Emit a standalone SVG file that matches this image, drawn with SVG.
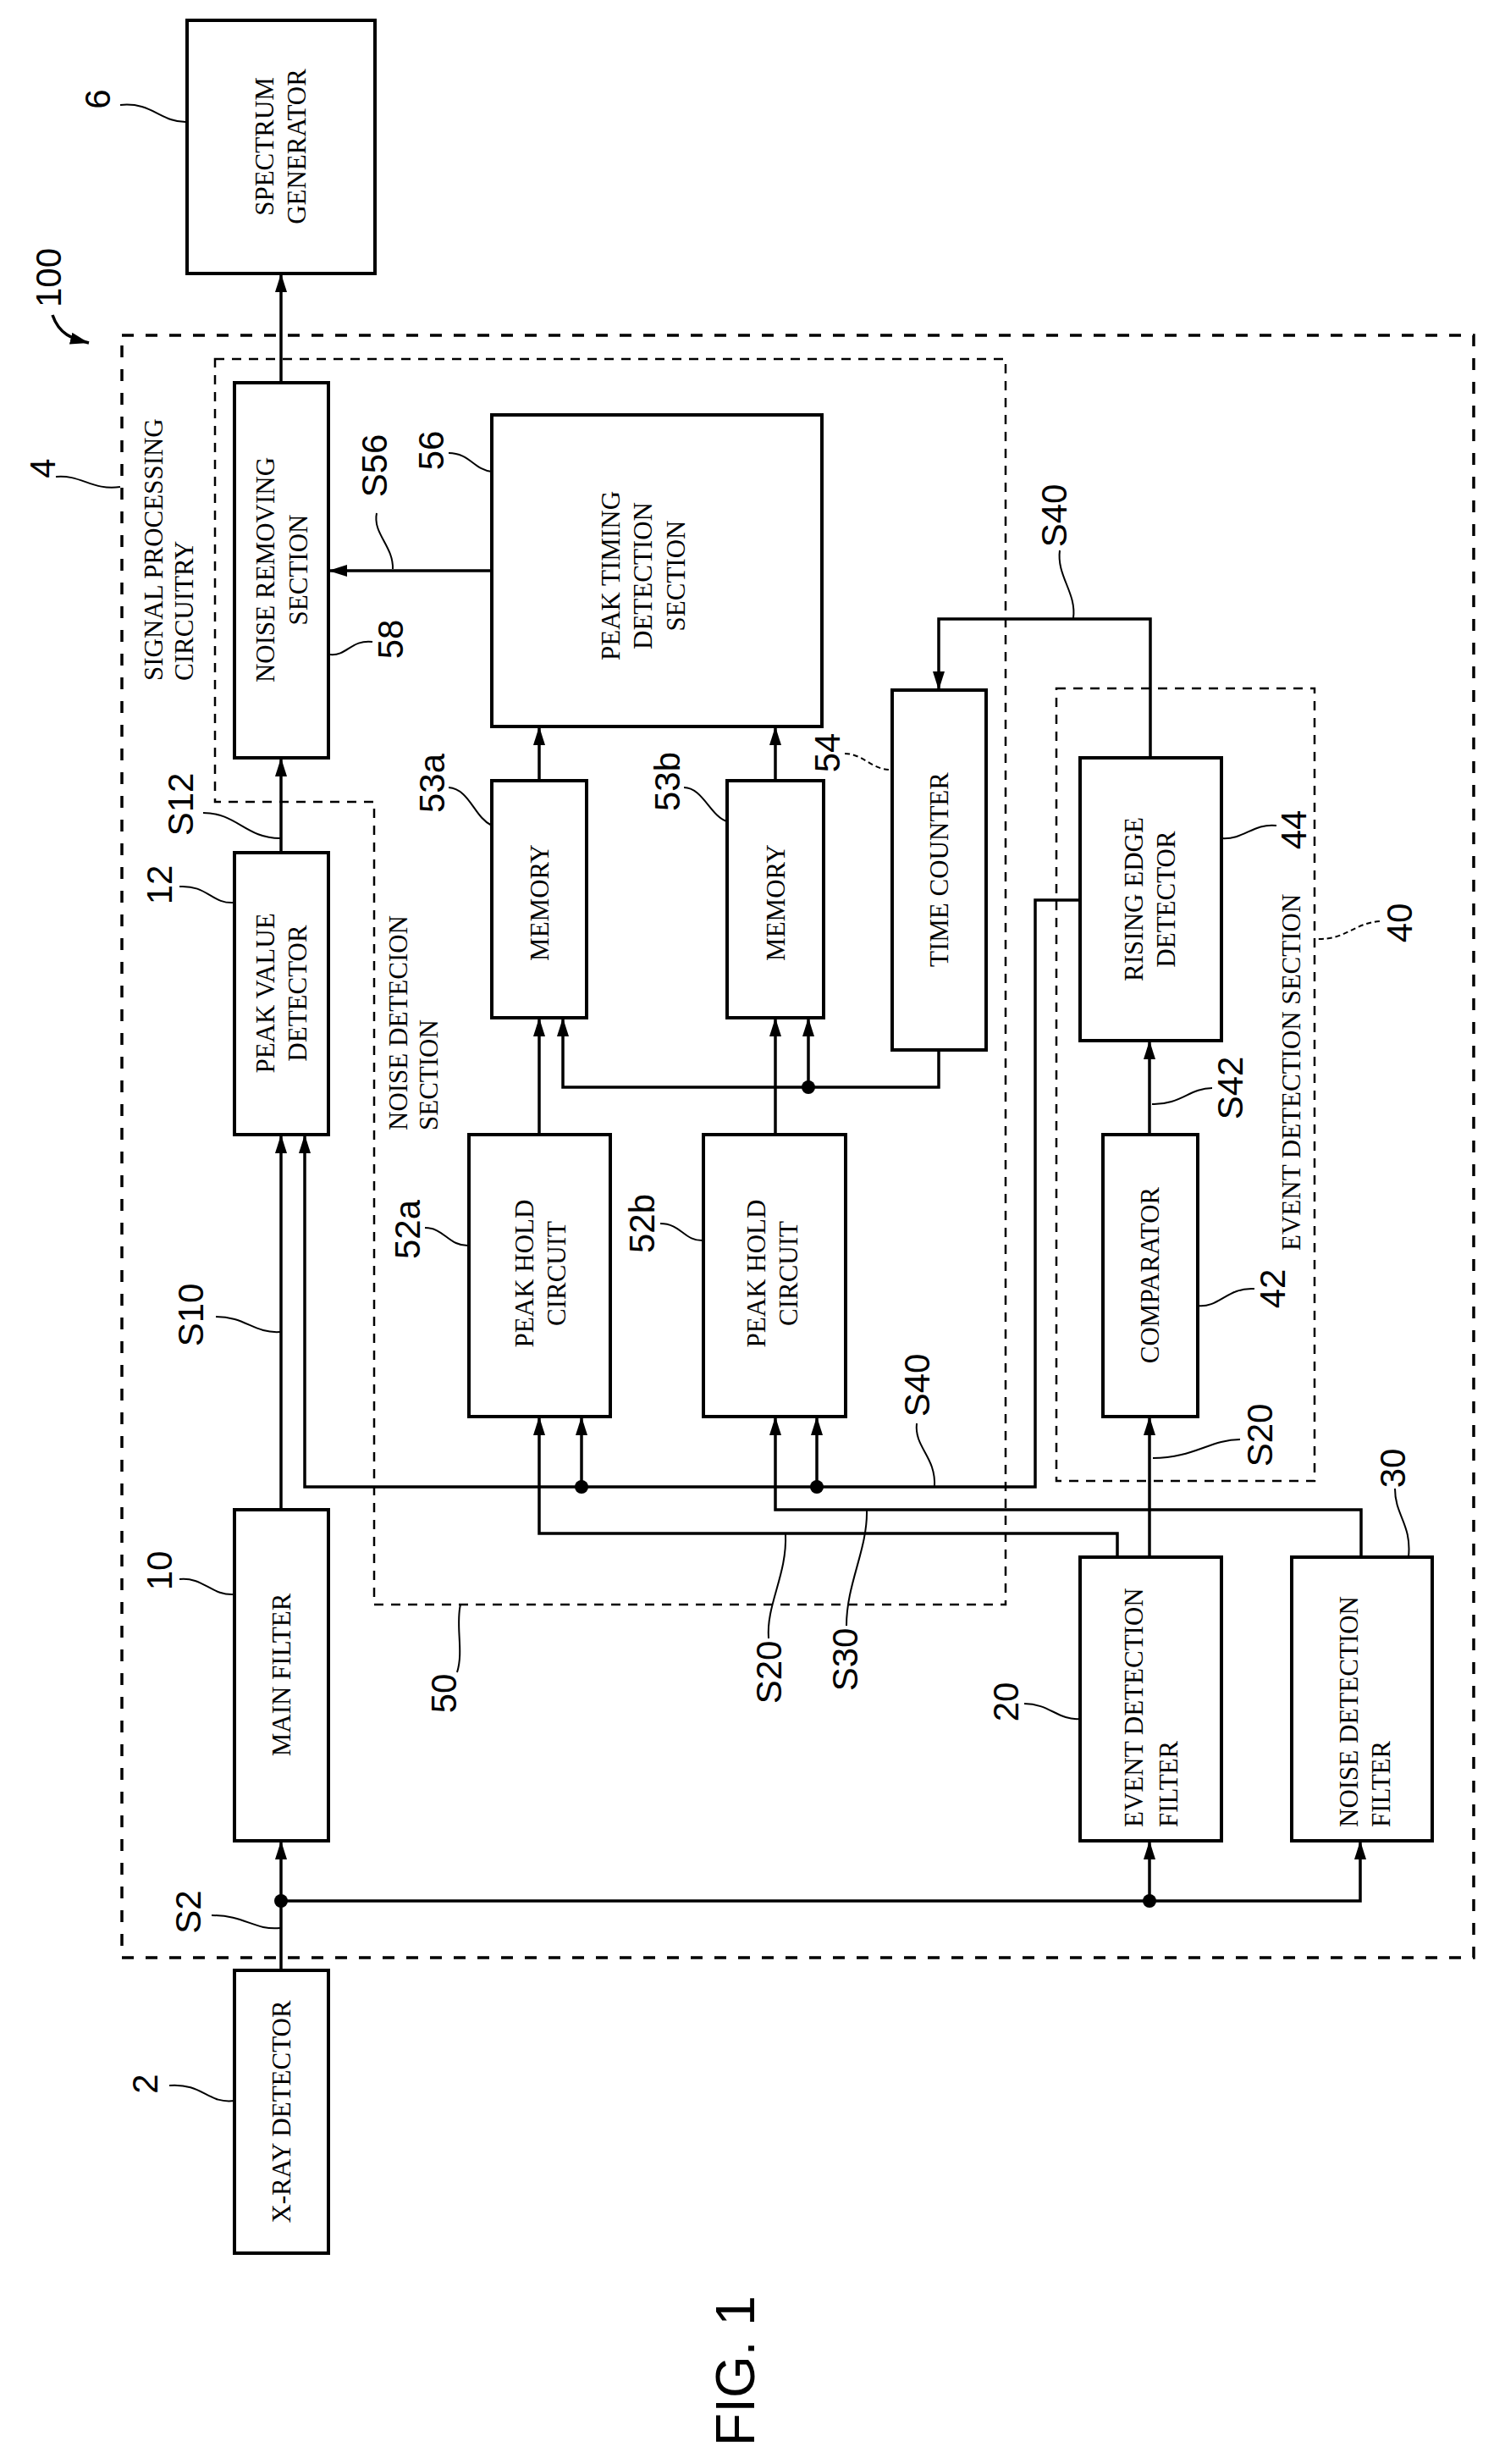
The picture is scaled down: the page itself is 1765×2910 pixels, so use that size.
<svg xmlns="http://www.w3.org/2000/svg" width="1765" height="2910" viewBox="0 0 1765 2910">
<style>
.box{fill:#fff;stroke:#000;stroke-width:4}
.outer{fill:none;stroke:#000;stroke-width:3.5;stroke-dasharray:14 14}
.inner{fill:none;stroke:#000;stroke-width:2.5;stroke-dasharray:11 9}
.w{fill:none;stroke:#000;stroke-width:3.5}
.ld{fill:none;stroke:#000;stroke-width:2}
.t{font-family:"Liberation Serif",serif;font-size:31px;fill:#000}
.n{font-family:"Liberation Sans",Arial,sans-serif;font-size:42px;fill:#000}
.c{text-anchor:middle;dominant-baseline:central}
.s{text-anchor:start;dominant-baseline:central}
</style>
<defs>
<marker id="ah" markerUnits="userSpaceOnUse" markerWidth="24" markerHeight="16" refX="22" refY="7" orient="auto">
<path d="M0,0 L22,7 L0,14 z" fill="#000"/>
</marker>
</defs>
<rect width="1765" height="2910" fill="#fff"/>

<g id="region-100">
<rect class="outer" x="144" y="396" width="1597" height="1916"/>
<text class="n c" transform="translate(57,328) rotate(-90)">100</text>
<path class="w" d="M62,372 C70,395 85,400 105,405" marker-end="url(#ah)"/>
<text class="n c" transform="translate(50,553) rotate(-90)">4</text>
<path class="ld" d="M66,563 C95,560 110,580 142,575"/>
<text class="t s" transform="translate(181,804) rotate(-90)">SIGNAL PROCESSING</text>
<text class="t s" transform="translate(217,804) rotate(-90)">CIRCUITRY</text>
</g>

<g id="region-50">
<path class="inner" d="M254,424 H1188 V1895 H442 V947 H254 Z"/>
<text class="t s" transform="translate(470,1335) rotate(-90)">NOISE DETECION</text>
<text class="t s" transform="translate(506,1335) rotate(-90)">SECTION</text>
<text class="n c" transform="translate(524,2000) rotate(-90)">50</text>
<path class="ld" d="M540,1975 C548,1950 538,1920 544,1895"/>
</g>

<g id="region-40">
<rect class="inner" x="1248" y="813" width="305" height="936"/>
<text class="t s" transform="translate(1525,1477) rotate(-90)">EVENT DETECTION SECTION</text>
<text class="n c" transform="translate(1653,1090) rotate(-90)">40</text>
<path class="ld" d="M1630,1088 C1600,1090 1590,1110 1556,1109" stroke-dasharray="6 4"/>
</g>

<g id="node-6">
<rect class="box" x="221" y="24" width="222" height="299"/>
<text class="t c" transform="translate(312,173) rotate(-90)">SPECTRUM</text>
<text class="t c" transform="translate(350,173) rotate(-90)">GENERATOR</text>
<text class="n c" transform="translate(115,117) rotate(-90)">6</text>
<path class="ld" d="M142,124 C180,120 190,145 221,144"/>
</g>

<g id="node-58">
<rect class="box" x="277" y="452" width="111" height="443"/>
<text class="t c" transform="translate(313,673) rotate(-90)">NOISE REMOVING</text>
<text class="t c" transform="translate(352,673) rotate(-90)">SECTION</text>
<text class="n c" transform="translate(461,755) rotate(-90)">58</text>
<path class="ld" d="M390,773 C410,775 415,755 440,758"/>
</g>

<g id="node-56">
<rect class="box" x="581" y="490" width="390" height="368"/>
<text class="t c" transform="translate(721,680) rotate(-90)">PEAK TIMING</text>
<text class="t c" transform="translate(759,680) rotate(-90)">DETECTION</text>
<text class="t c" transform="translate(798,680) rotate(-90)">SECTION</text>
<text class="n c" transform="translate(509,532) rotate(-90)">56</text>
<path class="ld" d="M530,535 C555,535 560,555 581,557"/>
</g>

<g id="node-12">
<rect class="box" x="277" y="1007" width="111" height="333"/>
<text class="t c" transform="translate(313,1173) rotate(-90)">PEAK VALUE</text>
<text class="t c" transform="translate(351,1173) rotate(-90)">DETECTOR</text>
<text class="n c" transform="translate(188,1045) rotate(-90)">12</text>
<path class="ld" d="M212,1047 C245,1045 250,1068 277,1066"/>
</g>

<g id="node-53a">
<rect class="box" x="581" y="922" width="112" height="280"/>
<text class="t c" transform="translate(637,1066) rotate(-90)">MEMORY</text>
<text class="n c" transform="translate(510,925) rotate(-90)">53a</text>
<path class="ld" d="M530,930 C555,932 560,965 581,975"/>
</g>

<g id="node-53b">
<rect class="box" x="859" y="922" width="114" height="280"/>
<text class="t c" transform="translate(916,1066) rotate(-90)">MEMORY</text>
<text class="n c" transform="translate(788,923) rotate(-90)">53b</text>
<path class="ld" d="M808,930 C830,930 840,965 859,970"/>
</g>

<g id="node-54">
<rect class="box" x="1054" y="815" width="111" height="425"/>
<text class="t c" transform="translate(1109,1027) rotate(-90)">TIME COUNTER</text>
<text class="n c" transform="translate(977,889) rotate(-90)">54</text>
<path class="ld" d="M998,890 C1020,890 1030,910 1054,909" stroke-dasharray="6 4"/>
</g>

<g id="node-44">
<rect class="box" x="1276" y="895" width="167" height="334"/>
<text class="t c" transform="translate(1339,1062) rotate(-90)">RISING EDGE</text>
<text class="t c" transform="translate(1377,1062) rotate(-90)">DETECTOR</text>
<text class="n c" transform="translate(1528,980) rotate(-90)">44</text>
<path class="ld" d="M1443,990 C1470,992 1480,972 1508,975"/>
</g>

<g id="node-52a">
<rect class="box" x="554" y="1340" width="167" height="333"/>
<text class="t c" transform="translate(619,1504) rotate(-90)">PEAK HOLD</text>
<text class="t c" transform="translate(657,1504) rotate(-90)">CIRCUIT</text>
<text class="n c" transform="translate(481,1452) rotate(-90)">52a</text>
<path class="ld" d="M502,1450 C525,1450 530,1472 554,1471"/>
</g>

<g id="node-52b">
<rect class="box" x="831" y="1340" width="168" height="333"/>
<text class="t c" transform="translate(893,1504) rotate(-90)">PEAK HOLD</text>
<text class="t c" transform="translate(931,1504) rotate(-90)">CIRCUIT</text>
<text class="n c" transform="translate(758,1445) rotate(-90)">52b</text>
<path class="ld" d="M780,1445 C805,1445 808,1466 831,1465"/>
</g>

<g id="node-42">
<rect class="box" x="1303" y="1340" width="112" height="333"/>
<text class="t c" transform="translate(1358,1506) rotate(-90)">COMPARATOR</text>
<text class="n c" transform="translate(1503,1522) rotate(-90)">42</text>
<path class="ld" d="M1415,1542 C1440,1545 1450,1520 1482,1522"/>
</g>

<g id="node-10">
<rect class="box" x="277" y="1783" width="111" height="391"/>
<text class="t c" transform="translate(332,1978) rotate(-90)">MAIN FILTER</text>
<text class="n c" transform="translate(188,1855) rotate(-90)">10</text>
<path class="ld" d="M212,1865 C240,1862 250,1885 277,1883"/>
</g>

<g id="node-20">
<rect class="box" x="1276" y="1839" width="167" height="335"/>
<text class="t s" transform="translate(1339,2158) rotate(-90)">EVENT DETECTION</text>
<text class="t s" transform="translate(1380,2158) rotate(-90)">FILTER</text>
<text class="n c" transform="translate(1188,2010) rotate(-90)">20</text>
<path class="ld" d="M1210,2012 C1240,2012 1250,2032 1276,2030"/>
</g>

<g id="node-30">
<rect class="box" x="1526" y="1839" width="166" height="335"/>
<text class="t s" transform="translate(1593,2158) rotate(-90)">NOISE DETECTION</text>
<text class="t s" transform="translate(1631,2158) rotate(-90)">FILTER</text>
<text class="n c" transform="translate(1645,1734) rotate(-90)">30</text>
<path class="ld" d="M1648,1758 C1648,1790 1668,1800 1664,1839"/>
</g>

<g id="node-2">
<rect class="box" x="277" y="2327" width="111" height="334"/>
<text class="t c" transform="translate(332,2494) rotate(-90)">X-RAY DETECTOR</text>
<text class="n c" transform="translate(171,2461) rotate(-90)">2</text>
<path class="ld" d="M200,2463 C240,2460 245,2485 277,2481"/>
</g>

<g id="connectors">
<path class="w" d="M332,2327 V2174" marker-end="url(#ah)"/>
<path class="w" d="M332,2245 H1607 V2174" marker-end="url(#ah)"/>
<path class="w" d="M1358,2245 V2174" marker-end="url(#ah)"/>
<path class="w" d="M332,1783 V1340" marker-end="url(#ah)"/>
<path class="w" d="M332,1007 V895" marker-end="url(#ah)"/>
<path class="w" d="M332,452 V323" marker-end="url(#ah)"/>
<path class="w" d="M581,674 H388" marker-end="url(#ah)"/>
<path class="w" d="M637,922 V858" marker-end="url(#ah)"/>
<path class="w" d="M916,922 V858" marker-end="url(#ah)"/>
<path class="w" d="M637,1340 V1202" marker-end="url(#ah)"/>
<path class="w" d="M916,1340 V1202" marker-end="url(#ah)"/>
<path class="w" d="M1109,1240 V1284 H665 V1202" marker-end="url(#ah)"/>
<path class="w" d="M955,1284 V1202" marker-end="url(#ah)"/>
<path class="w" d="M1359,895 V731 H1109 V815" marker-end="url(#ah)"/>
<path class="w" d="M1276,1063 H1223 V1756 H360 V1340" marker-end="url(#ah)"/>
<path class="w" d="M687,1756 V1673" marker-end="url(#ah)"/>
<path class="w" d="M965,1756 V1673" marker-end="url(#ah)"/>
<path class="w" d="M1320,1839 V1811 H637 V1673" marker-end="url(#ah)"/>
<path class="w" d="M1358,1839 V1673" marker-end="url(#ah)"/>
<path class="w" d="M1608,1839 V1783 H916 V1673" marker-end="url(#ah)"/>
<path class="w" d="M1358,1340 V1229" marker-end="url(#ah)"/>
<circle cx="332" cy="2245" r="8"/>
<circle cx="1358" cy="2245" r="8"/>
<circle cx="955" cy="1284" r="8"/>
<circle cx="687" cy="1756" r="8"/>
<circle cx="965" cy="1756" r="8"/>
<text class="n c" transform="translate(222,2258) rotate(-90)">S2</text>
<path class="ld" d="M250,2262 C290,2262 300,2280 331,2277"/>
<text class="n c" transform="translate(225,1553) rotate(-90)">S10</text>
<path class="ld" d="M255,1555 C290,1555 300,1575 331,1573"/>
<text class="n c" transform="translate(213,950) rotate(-90)">S12</text>
<path class="ld" d="M240,960 C280,960 290,990 331,990"/>
<text class="n c" transform="translate(442,550) rotate(-90)">S56</text>
<path class="ld" d="M445,606 C440,630 465,645 464,672"/>
<text class="n c" transform="translate(1245,609) rotate(-90)">S40</text>
<path class="ld" d="M1252,650 C1248,680 1272,700 1268,730"/>
<text class="n c" transform="translate(1083,1636) rotate(-90)">S40</text>
<path class="ld" d="M1083,1681 C1080,1710 1106,1720 1104,1756"/>
<text class="n c" transform="translate(1453,1285) rotate(-90)">S42</text>
<path class="ld" d="M1432,1285 C1405,1285 1395,1305 1361,1304"/>
<text class="n c" transform="translate(1488,1695) rotate(-90)">S20</text>
<path class="ld" d="M1465,1700 C1430,1700 1410,1722 1362,1722"/>
<text class="n c" transform="translate(908,1975) rotate(-90)">S20</text>
<path class="ld" d="M908,1935 C905,1895 930,1860 928,1812"/>
<text class="n c" transform="translate(998,1960) rotate(-90)">S30</text>
<path class="ld" d="M1000,1920 C1000,1870 1025,1830 1024,1784"/>
</g>

<text transform="translate(869,2800) rotate(-90)" style="font-family:'Liberation Sans',Arial,sans-serif;font-size:64px;text-anchor:middle;dominant-baseline:central">FIG. 1</text>
</svg>
